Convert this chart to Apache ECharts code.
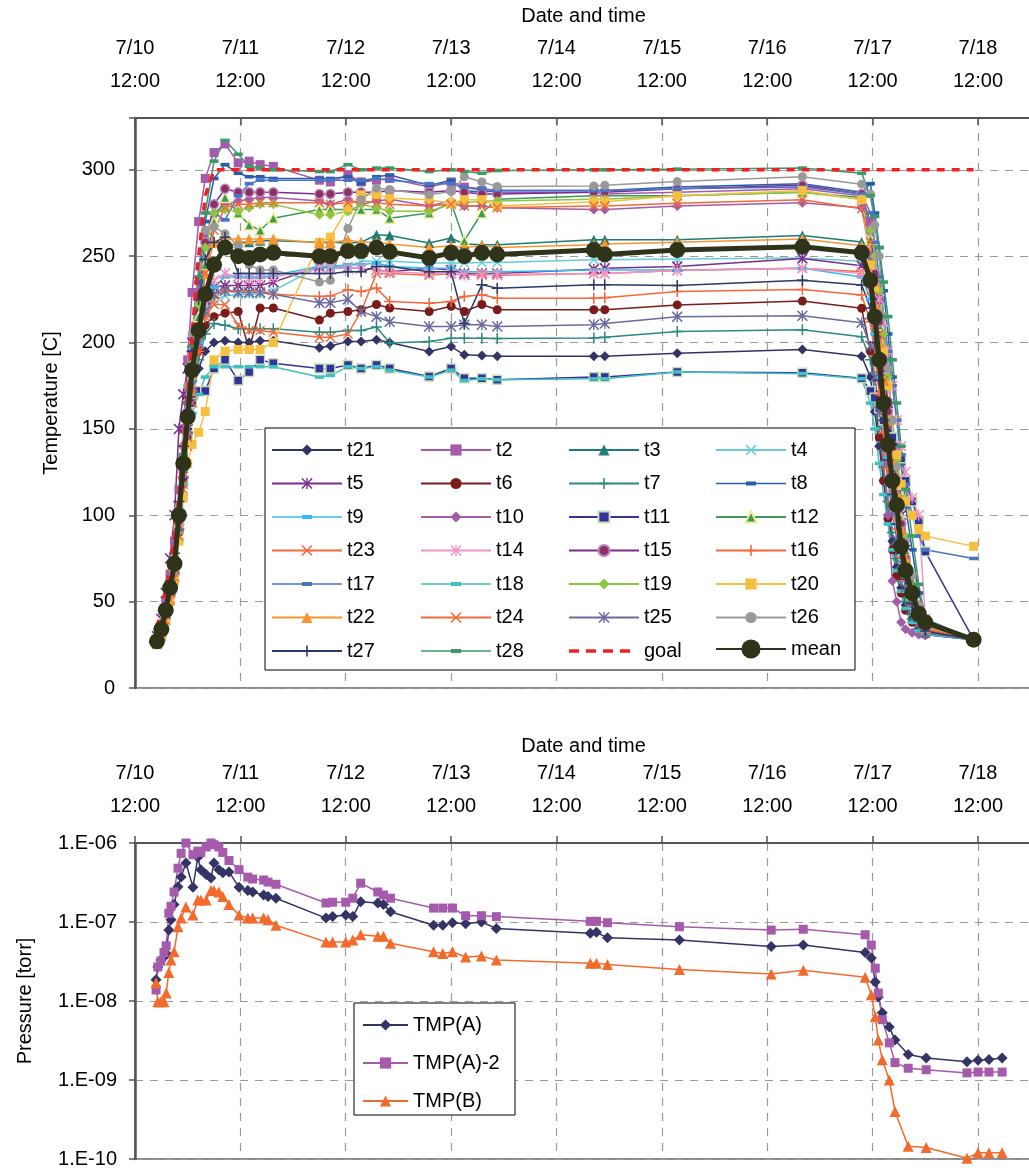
<!DOCTYPE html>
<html>
<head>
<meta charset="utf-8">
<script src="https://cdn.jsdelivr.net/npm/echarts@6/dist/echarts.min.js"></script>
<style>
html, body { margin: 0; padding: 0; background: #fff; }
#chart { width: 1029px; height: 1172px; }
</style>
</head>
<body>
<div id="chart"></div>
<script>
// hours since 7/10 12:00
const DAY_LABELS = ['7/10', '7/11', '7/12', '7/13', '7/14', '7/15', '7/16', '7/17', '7/18'];

const HOURS = [5, 6, 7, 8, 9, 10, 11, 12, 13, 14.5, 16, 18, 20.5, 23.5, 26, 28.5, 31.5,
    42, 44.5, 48.5, 51.5, 55, 58, 67, 72, 75, 79, 82.5, 104.5, 107, 123.5, 152, 165.5,
    167.5, 168.5, 169.5, 170.5, 171.5, 172.5, 173.5, 174.5, 175.5, 177, 178.5, 180, 191];

const t21 = [28,35,46,60,74,98,125,150,170,185,195,200,201,200,200,201,201,
    197,198,200.6,200.6,201.6,200,194.8,197.7,192.9,192.5,192,192,192,193.8,196,192,
    180,160,140,120,100,85,70,58,48,40,34,32,28];
const t2 = [28,36,50,66,85,115,150,190,229,270,295,310,315,304,305,303,302,
    294,293,297,293,294,295,290,293,290,288,287,287,286,287,289,285,
    270,250,225,195,165,140,115,92,70,50,38,33,28];
const t3 = [27,34,44,57,70,97,128,155,180,205,228,245,255,258,258,259,259,
    258,258,257.6,258,262.4,262,257.6,260.5,257,256.6,256.6,259.5,259.5,259.5,262,258.2,
    245,225,200,175,150,128,110,90,72,55,42,35,28];
const t4 = [27,33,43,55,68,95,125,150,172,195,215,225,227,228,228,228,230,
    244,244,244,247,247,247,246,246,246,246.4,246.4,248,248,248.3,249,247,
    232,210,185,160,137,117,100,80,64,50,40,34,28];
const t5 = [30,40,55,75,100,150,170,185,200,215,225,232,233,233,233,233,235,
    244,243,243,243,242,241,243,242,240,240,240,242.5,243,244,248.6,244.5,
    238,225,205,180,160,140,120,100,80,60,45,36,28];
const t6 = [27,33,42,54,66,90,118,145,170,195,210,215,217,218,196,220,220,
    213,217,218,219,222,220,218,221,218,222,219,219,219,221.8,224,219.8,
    195,170,145,120,98,80,65,55,45,38,33,31,28];
const t7 = [27,33,43,56,70,95,122,148,170,190,205,211,210,208,208,208,208,
    206,206,207,207,209,199.7,200.6,202.5,202.5,202.5,202.4,202.6,203,206.4,207.4,203.4,
    190,170,150,128,108,90,75,62,50,40,34,31,28];
const t8 = [28,35,46,60,75,102,135,165,195,235,270,295,303,298,296,296,295,
    295,295,296,292,296,297,291,294,288,287,288,288,288,290,292,287,
    292,275,255,230,205,180,155,130,105,80,55,40,28];
const t9 = [27,34,45,58,72,98,128,153,178,200,220,232,238,238,238,238,239,
    244,244,245,245,246,244,243,243,241,241,241,242,242,242,243,238,
    225,205,180,156,133,112,95,78,62,48,38,33,28];
const t10 = [27,35,46,60,75,103,135,165,195,230,260,275,280,282,283,284,284,
    282,280,283,280,282,283,279,282,279,279,278,277,277,279,281,278,
    250,210,170,130,100,62,50,38,34,32,31,31,28];
const t11 = [27,33,43,55,68,92,120,145,165,172,172,185,190,178,183,190,188,
    185,185,187,185,187,185,180.3,185,179.4,179.4,178.4,180,180,183,182.5,179.4,
    172,168,162,155,150,145,140,133,120,108,97,79,28];
const t12 = [27,34,45,58,72,100,130,158,185,215,245,270,284,275,268,265,272,
    277,277,277,277,277,272,275,281,259,275,283,285,285,285,287,284,
    260,238,210,185,160,138,118,98,80,62,46,36,28];
const t23 = [26,31,40,52,65,88,115,140,165,195,215,222,222,210,207,207,206,
    203,203,205,218,240,240,239,240,239,240,239,240,240,241.7,243,241,
    230,210,185,160,137,115,97,80,64,50,40,33,28];
const t14 = [26,32,42,55,68,95,125,150,175,200,222,236,240,238,237,237,238,
    243,243,243,243,242,241,240,240,239,239,239.4,240,240,241.7,243,240,
    238,233,225,212,195,175,155,140,125,110,100,40,28];
const t15 = [27,34,45,59,73,100,132,160,190,225,258,280,289,287,287,287,287,
    286,286,287,287,287,288,287,288,287,286,286,287,287,289,291,286,
    265,240,212,185,160,138,118,95,75,56,42,34,28];
const t16 = [26,32,42,54,67,92,122,148,172,195,215,226,230,230,230,230,228,
    226.7,227,230.5,229.6,231.5,223.8,222.8,223.8,226.7,227.7,225.7,225.7,226,229.5,230.7,227.5,
    212,192,170,148,127,108,92,76,62,48,38,33,28];
const t17 = [27,34,45,58,73,100,132,160,188,222,255,275,271,285,292,294,294,
    294,294,294,294,295,294,292,292,290,289,288,288,288,289,290,286,
    275,258,238,215,195,175,155,135,118,100,88,80,75];
const t18 = [27,33,43,55,67,90,118,140,159,170,180,186,186,186,186,186,186,
    180,181,186,185,186,184,180,184,178,179,178.5,179,179,183,182,179,
    165,150,130,112,95,80,68,56,46,38,33,31,28];
const t19 = [27,34,45,58,72,100,130,158,188,222,255,275,277,276,278,280,280,
    274,274,276,280,278,276,276,280,281,282,282,283,283,285,287,283,
    265,250,230,205,180,155,132,110,88,66,48,36,28];
const t20 = [26,31,40,50,62,85,110,130,141,148,160,190,195,196,196,196,200,
    258,261,278,285.6,285.6,283.6,282.7,280.7,282.7,282.7,279,281.5,281.5,285,288,282.7,
    245,232,215,195,175,155,135,118,108,100,92,88,82];
const t22 = [26,33,43,56,70,97,128,155,182,210,240,258,260,260,260,260,260,
    257.6,257.6,259.5,258,258,257,255,256,255,256,255,256.6,257,258,260,256,
    240,222,200,178,155,132,112,92,75,58,44,35,28];
const t24 = [25,30,39,51,64,88,118,145,172,205,240,265,278,280,280,281,281,
    281,280,281,282,281,280,279,280,279,279,278,279,279,280.7,282.7,277.5,
    258,235,205,178,152,128,108,88,70,54,41,34,28];
const t25 = [27,33,43,56,69,94,124,150,175,200,218,228,230,229,229,229,228,
    223,223,225,218,215,212,209.3,209.3,210.3,210.3,209.3,210.3,211,215,215.5,211.5,
    198,180,160,140,120,102,86,72,58,46,37,32,28];
const t26 = [27,34,45,60,76,105,140,175,205,244,265,267,263,256,245,242,242,
    235,236,266,282.7,289.4,288.5,285.6,287.5,296,293,290.4,290.7,291,293.2,296,291.7,
    286,268,250,215,185,155,128,105,85,65,48,36,28];
const t27 = [28,36,48,62,78,108,140,168,195,225,248,258,261,240,240,240,240,
    240,240,241,241,244,244,241,241,211,233.4,231.5,233.4,233.5,233,236,233.3,
    220,200,178,155,132,112,95,78,63,49,39,33,28];
const t28 = [27,34,45,59,73,102,135,165,198,238,275,305,317,309,302,301,300,
    299,299,303,300,301,301,299,300,299,298,299.6,300,300,300.4,301,298,
    285,273,255,235,215,190,165,140,115,88,60,40,28];
const goal = [35,45,57,72,88,110,140,170,205,250,285,300,300,300,300,300,300,
    300,300,300,300,300,300,300,300,300,300,300,300,300,300,300,300,
    300,300,300,300,300,300,300,300,300,300,300,300,300];
const mean = [27,34,45,58,72,100,130,157,184,207,228,245,255,250,249,251,252,
    250,250,253,253,255,252.5,249,252,250,252,251,253.6,251,253.6,255.4,252,
    236,215,190,165,141,120,106,82,68,55,43,38,28];

// pressure log, hours since 7/10 12:00
const P_HOURS = [4.8,5.2,5.9,6.6,7.1,7.7,8.2,8.9,9.8,10.5,11.6,13.2,14.3,15.0,16.2,17.3,18.0,19.1,20.0,21.4,
    23.7,25.7,26.8,29.3,30.3,32.1,43.5,45.0,48.0,49.6,51.4,55.3,56.6,58.2,68.0,70.1,72.3,75.3,78.9,82.3,
    103.7,105.1,107.6,124.0,144.9,152.2,166.3,167.7,168.6,169.3,170.2,171.8,173.1,176.1,180.2,189.5,192.0,194.5,197.5];
const tmpA = [1.86e-8,2.7e-8,3.3e-8,3.6e-8,4.0e-8,7.9e-8,1.07e-7,1.66e-7,2.8e-7,3.7e-7,
    5.6e-7,2.75e-7,6.6e-7,4.6e-7,4.0e-7,3.6e-7,5.6e-7,4.6e-7,4.2e-7,4.3e-7,
    2.75e-7,2.5e-7,2.4e-7,2.2e-7,2.1e-7,2.0e-7,1.12e-7,1.17e-7,1.23e-7,1.17e-7,
    1.8e-7,1.74e-7,1.66e-7,1.35e-7,9.1e-8,9.1e-8,9.8e-8,9.5e-8,1.0e-7,8.3e-8,
    7.2e-8,7.4e-8,6.3e-8,5.9e-8,4.9e-8,5.1e-8,4.1e-8,3.5e-8,1.74e-8,1.12e-8,
    7.1e-9,4.7e-9,3.2e-9,2.1e-9,1.9e-9,1.7e-9,1.78e-9,1.82e-9,1.9e-9];
const tmpA2 = [1.38e-8,2.7e-8,3.2e-8,4.1e-8,5.0e-8,1.29e-7,1.58e-7,2.4e-7,4.8e-7,7.4e-7,
    1.0e-6,7.1e-7,7.9e-7,7.6e-7,8.9e-7,1.0e-6,9.5e-7,8.9e-7,7.6e-7,6.0e-7,
    4.6e-7,3.7e-7,3.5e-7,3.4e-7,3.2e-7,3.0e-7,1.74e-7,1.78e-7,1.78e-7,2.0e-7,
    3.1e-7,2.4e-7,2.2e-7,2.0e-7,1.5e-7,1.5e-7,1.5e-7,1.2e-7,1.2e-7,1.17e-7,
    1.02e-7,1.02e-7,9.8e-8,8.7e-8,7.9e-8,8.1e-8,6.9e-8,5.1e-8,2.6e-8,1.26e-8,
    5.8e-9,2.95e-9,1.66e-9,1.41e-9,1.35e-9,1.23e-9,1.26e-9,1.26e-9,1.26e-9];
const tmpB = [1.7e-8,9.8e-9,9.8e-9,9.8e-9,1.26e-8,2.3e-8,3.3e-8,4.2e-8,8.7e-8,1.12e-7,
    1.55e-7,1.23e-7,1.9e-7,1.9e-7,1.9e-7,2.5e-7,2.5e-7,2.4e-7,2.1e-7,1.66e-7,
    1.23e-7,1.12e-7,1.12e-7,1.12e-7,1.07e-7,9.1e-8,5.6e-8,5.6e-8,5.6e-8,5.9e-8,
    6.9e-8,6.6e-8,6.6e-8,5.4e-8,4.2e-8,4.0e-8,4.2e-8,3.6e-8,3.7e-8,3.3e-8,
    3.0e-8,3.0e-8,2.9e-8,2.5e-8,2.2e-8,2.45e-8,2.0e-8,1.2e-8,6.3e-9,3.2e-9,
    1.8e-9,1.0e-9,4.0e-10,1.45e-10,1.4e-10,1.02e-10,1.2e-10,1.2e-10,1.2e-10];

const FONT = '"Liberation Sans", Arial, sans-serif';

// marker shapes
const SYM_X = 'path://M1,0L5,4L9,0L10,1L6,5L10,9L9,10L5,6L1,10L0,9L4,5L0,1Z';
const SYM_PLUS = 'path://M4.3,0H5.7V4.3H10V5.7H5.7V10H4.3V5.7H0V4.3H4.3Z';
const SYM_STAR = 'path://M1,0L5,4L9,0L10,1L6,5L10,9L9,10L5,6L1,10L0,9L4,5L0,1Z M4.4,0H5.6V10H4.4Z';
const SYM_DASH = 'path://M0,0H10V4H0Z';
// legend icons drawn in a 70x14 box (tiny corner specks fix the bounds)
const BOX = 'M0,0h0.01v0.01h-0.01z M70,14h-0.01v-0.01h0.01z ';
const GOAL_ICON = 'path://' + BOX + 'M0,5.3h10v3.4h-10z M17,5.3h10v3.4h-10z M34,5.3h10v3.4h-10z M51,5.3h10v3.4h-10z';
const DASH_ICON = 'path://' + BOX + 'M0,6.25h70v1.5h-70z M30,5h10v4h-10z';

const tempSeriesList = [
    ['t21', t21, { color: '#333366', symbol: 'diamond', size: 10 }],
    ['t2', t2, { color: '#A65AAB', symbol: 'rect', size: 9 }],
    ['t3', t3, { color: '#1E7B76', symbol: 'triangle', size: 10 }],
    ['t4', t4, { color: '#66CCD8', symbol: SYM_X, size: 10 }],
    ['t5', t5, { color: '#7B2C8C', symbol: SYM_STAR, size: 11 }],
    ['t6', t6, { color: '#7A1C1C', symbol: 'circle', size: 9 }],
    ['t7', t7, { color: '#2B8A80', symbol: SYM_PLUS, size: 11 }],
    ['t8', t8, { color: '#2A5CAA', symbol: SYM_DASH, size: 9, keep: true }],
    ['t9', t9, { color: '#33BBEE', symbol: SYM_DASH, size: 9, keep: true }],
    ['t10', t10, { color: '#A45BA8', symbol: 'diamond', size: 10 }],
    ['t11', t11, { color: '#333399', symbol: 'rect', size: 9, border: '#C6E0B4' }],
    ['t12', t12, { color: '#3D9955', symbol: 'triangle', size: 10, border: '#EEEE99' }],
    ['t23', t23, { color: '#F4683C', symbol: SYM_X, size: 10 }],
    ['t14', t14, { color: '#F293C8', symbol: SYM_STAR, size: 11 }],
    ['t15', t15, { color: '#7B2C8C', symbol: 'circle', size: 9, fill: '#8E2F5E', border: '#B38CC6' }],
    ['t16', t16, { color: '#F4683C', symbol: SYM_PLUS, size: 11 }],
    ['t17', t17, { color: '#4A74C4', symbol: SYM_DASH, size: 9, keep: true }],
    ['t18', t18, { color: '#40C0C0', symbol: SYM_DASH, size: 9, keep: true }],
    ['t19', t19, { color: '#8DC641', symbol: 'diamond', size: 10 }],
    ['t20', t20, { color: '#F5C040', symbol: 'rect', size: 9 }],
    ['t22', t22, { color: '#F7962F', symbol: 'triangle', size: 11 }],
    ['t24', t24, { color: '#F26A3A', symbol: SYM_X, size: 10 }],
    ['t25', t25, { color: '#6A6A9E', symbol: SYM_STAR, size: 11 }],
    ['t26', t26, { color: '#999999', symbol: 'circle', size: 9 }],
    ['t27', t27, { color: '#2A3B6A', symbol: SYM_PLUS, size: 11 }],
    ['t28', t28, { color: '#3A9A6A', symbol: SYM_DASH, size: 9, keep: true }]
];

function tempSeries(name, vals, st) {
    const fill = st.fill || st.color;
    return {
        name: name,
        type: 'line',
        xAxisIndex: 0,
        yAxisIndex: 0,
        data: HOURS.map((h, i) => [h, vals[i]]),
        color: fill,
        symbol: st.symbol,
        symbolSize: st.size,
        symbolKeepAspect: !!st.keep,
        showSymbol: true,
        lineStyle: { color: st.color, width: 1.5 },
        itemStyle: {
            color: fill,
            borderColor: st.border || fill,
            borderWidth: st.border ? 1.5 : 0
        },
        emphasis: { disabled: true },
        z: 3
    };
}

const series = tempSeriesList.map(s => tempSeries(s[0], s[1], s[2]));

series.push({
    name: 'goal',
    type: 'line',
    xAxisIndex: 0,
    yAxisIndex: 0,
    data: HOURS.map((h, i) => [h, goal[i]]),
    color: '#EE2222',
    symbol: 'none',
    lineStyle: { color: '#EE2222', width: 3.5, type: [8, 7] },
    emphasis: { disabled: true },
    z: 4
});

series.push({
    name: 'mean',
    type: 'line',
    xAxisIndex: 0,
    yAxisIndex: 0,
    data: HOURS.map((h, i) => [h, mean[i]]),
    color: '#2F3319',
    symbol: 'circle',
    symbolSize: 16,
    lineStyle: { color: '#2F3319', width: 5 },
    itemStyle: { color: '#2F3319' },
    emphasis: { disabled: true },
    z: 5
});

const pressureList = [
    ['TMP(A)', tmpA, { color: '#333366', symbol: 'diamond', size: 11 }],
    ['TMP(A)-2', tmpA2, { color: '#A65AAB', symbol: 'rect', size: 9 }],
    ['TMP(B)', tmpB, { color: '#F26B2C', symbol: 'triangle', size: 11 }]
];
pressureList.forEach(p => {
    series.push({
        name: p[0],
        type: 'line',
        xAxisIndex: 1,
        yAxisIndex: 1,
        data: P_HOURS.map((h, i) => [h, p[1][i]]),
        color: p[2].color,
        symbol: p[2].symbol,
        symbolSize: p[2].size,
        lineStyle: { color: p[2].color, width: 1.5 },
        itemStyle: { color: p[2].color },
        emphasis: { disabled: true },
        z: 3
    });
});

const textBase = { fontSize: 20, fontFamily: FONT, color: '#000' };
const gridLine = { show: true, lineStyle: { color: '#9a9a9a', type: [8, 7], width: 1.2 } };

function timeAxis(gridIndex, tickInside, nameGap) {
    return {
        type: 'value',
        gridIndex: gridIndex,
        position: 'top',
        min: 0,
        max: 204.3,
        interval: 24,
        name: 'Date and time',
        nameLocation: 'middle',
        nameGap: nameGap,
        nameTextStyle: textBase,
        axisLine: { show: true, onZero: false, lineStyle: { color: '#555', width: 2 } },
        axisTick: { show: true, inside: tickInside, length: 7, lineStyle: { color: '#555', width: 1.5 } },
        axisLabel: Object.assign({}, textBase, {
            lineHeight: 33,
            margin: 20,
            hideOverlap: false,
            formatter: v => (v % 24 === 0 ? DAY_LABELS[v / 24] + '\n12:00' : '')
        }),
        splitLine: gridLine
    };
}

const legendText = Object.assign({}, textBase, { lineHeight: 20 });
const legendBase = {
    orient: 'vertical',
    itemWidth: 70,
    itemHeight: 14,
    itemGap: 13.5,
    padding: 0,
    top: 440,
    selectedMode: false,
    textStyle: legendText,
    z: 20
};

const option = {
    animation: false,
    backgroundColor: '#fff',
    grid: [
        { left: 135, top: 118, right: -3, height: 570, outerBoundsMode: 'none', show: true, borderColor: '#666', borderWidth: 1.5 },
        { left: 135, top: 843, right: -3, height: 316, outerBoundsMode: 'none', show: true, borderColor: '#666', borderWidth: 1.5 }
    ],
    xAxis: [timeAxis(0, true, 92), timeAxis(1, false, 87)],
    yAxis: [
        {
            type: 'value',
            gridIndex: 0,
            min: 0,
            max: 330,
            interval: 50,
            name: 'Temperature [C]',
            nameLocation: 'middle',
            nameGap: 74,
            nameTextStyle: textBase,
            axisLine: { show: true, lineStyle: { color: '#555', width: 2.5 } },
            axisTick: { show: true, length: 6, lineStyle: { color: '#555', width: 1.5 } },
            axisLabel: Object.assign({}, textBase, {
                margin: 20,
                formatter: v => (v % 50 === 0 ? String(v) : '')
            }),
            splitLine: gridLine
        },
        {
            type: 'log',
            gridIndex: 1,
            logBase: 10,
            min: 1e-10,
            max: 1e-6,
            name: 'Pressure [torr]',
            nameLocation: 'middle',
            nameGap: 100,
            nameTextStyle: textBase,
            axisLine: { show: true, lineStyle: { color: '#555', width: 2.5 } },
            axisTick: { show: true, length: 6, lineStyle: { color: '#555', width: 1.5 } },
            axisLabel: Object.assign({}, textBase, {
                margin: 18,
                formatter: v => {
                    const e = Math.round(Math.log10(v));
                    return '1.E-' + String(-e).padStart(2, '0');
                }
            }),
            splitLine: gridLine
        }
    ],
    legend: [
        Object.assign({}, legendBase, { left: 271, data: ['t21', 't5', { name: 't9', icon: DASH_ICON }, 't23', { name: 't17', icon: DASH_ICON }, 't22', 't27'] }),
        Object.assign({}, legendBase, { left: 420, data: ['t2', 't6', 't10', 't14', { name: 't18', icon: DASH_ICON }, 't24', { name: 't28', icon: DASH_ICON }] }),
        Object.assign({}, legendBase, { left: 568, data: ['t3', 't7', 't11', 't15', 't19', 't25', { name: 'goal', icon: GOAL_ICON }] }),
        Object.assign({}, legendBase, { left: 715, data: ['t4', { name: 't8', icon: DASH_ICON }, 't12', 't16', 't20', 't26'] }),
        Object.assign({}, legendBase, { left: 715, top: 639, itemHeight: 24, data: ['mean'] }),
        Object.assign({}, legendBase, { left: 362, top: 1015, itemWidth: 45, itemGap: 18, data: ['TMP(A)', 'TMP(A)-2', 'TMP(B)'] })
    ],
    graphic: [
        { type: 'rect', z: 10, shape: { x: 265, y: 428, width: 590, height: 242 }, style: { fill: '#fff', stroke: '#000', lineWidth: 1 } },
        { type: 'rect', z: 10, shape: { x: 354, y: 1003, width: 161, height: 112 }, style: { fill: '#fff', stroke: '#000', lineWidth: 1 } }
    ],
    series: series
};

const chart = echarts.init(document.getElementById('chart'), null, { renderer: 'canvas' });
chart.setOption(option);
</script>
</body>
</html>
